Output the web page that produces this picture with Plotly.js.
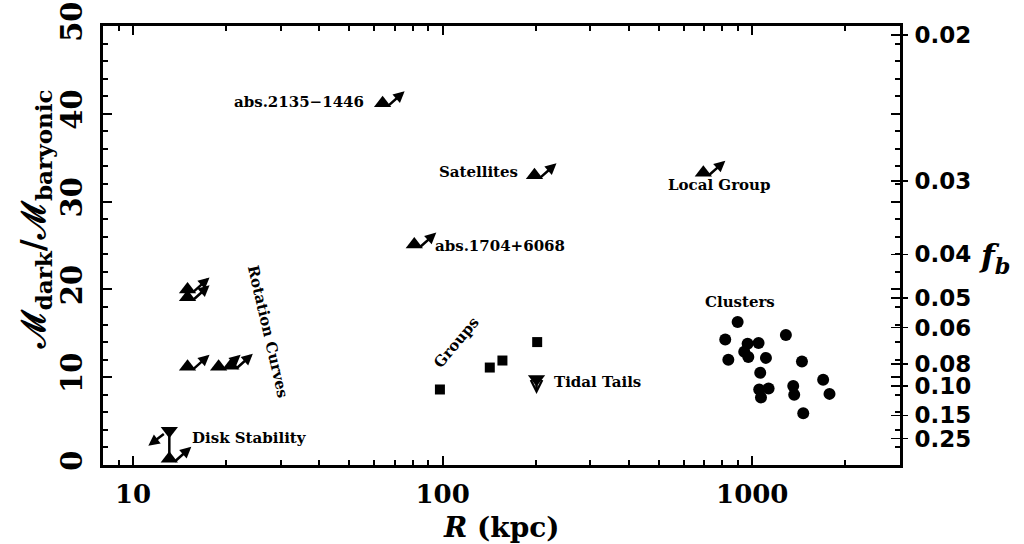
<!DOCTYPE html>
<html><head><meta charset="utf-8">
<script src="https://cdn.plot.ly/plotly-3.0.1.min.js"></script>
<style>body{margin:0;background:#fff}#chart{width:1024px;height:544px}</style>
</head><body><div id="chart"></div>
<script>
// Lower limits (filled up-triangles with up-right arrows)
const lowerR = [64, 198, 695, 81, 15, 15, 15, 18.9, 20.7, 13.1];
const lowerM = [41.2, 33.0, 33.3, 25.1, 20.0, 19.1, 11.2, 11.2, 11.3, 0.7];
// Upper limits (filled down-triangles): disk stability, tidal tails
const upperR = [13.1, 201];
const upperM = [3.9, 9.8];
// Groups (squares)
const groupsR = [98, 142, 156, 202];
const groupsM = [8.6, 11.1, 11.9, 14.0];
// Clusters (circles)
const clustersR = [897, 818, 966, 1048, 1284, 942, 971, 837, 1107, 1447, 1061, 1694, 1053, 1129, 1356, 1366, 1067, 1776, 1461];
const clustersM = [16.3, 14.3, 13.8, 13.9, 14.8, 12.9, 12.3, 12.0, 12.2, 11.8, 10.5, 9.7, 8.6, 8.7, 9.0, 8.0, 7.7, 8.1, 5.9];
// Right axis: baryon fraction ticks
const fbValues = [0.02, 0.03, 0.04, 0.05, 0.06, 0.08, 0.10, 0.15, 0.25];
const fbLabels = ['0.02', '0.03', '0.04', '0.05', '0.06', '0.08', '0.10', '0.15', '0.25'];
// x axis ticks
const xTickVals = [10, 100, 1000];
const xTickText = ['10', '100', '1000'];
const xMinorVals = [8, 9, 20, 30, 40, 50, 60, 70, 80, 90, 200, 300, 400, 500, 600, 700, 800, 900, 2000, 3000];
// Text labels
const labelTexts = ['abs.2135−1446', 'Satellites', 'Local Group', 'abs.1704+6068', 'Rotation Curves', 'Groups', 'Tidal Tails', 'Disk Stability', 'Clusters'];

// styling / placement of labels (paper coords)
const labelPlace = [
  {x: 0.330, y: 0.827, xa: 'right', ang: 0},
  {x: 0.523, y: 0.667, xa: 'right', ang: 0},
  {x: 0.773, y: 0.638, xa: 'center', ang: 0},
  {x: 0.414, y: 0.499, xa: 'left', ang: 0},
  {x: 0.2070, y: 0.303, xa: 'center', ang: 77},
  {x: 0.444, y: 0.280, xa: 'center', ang: -50},
  {x: 0.563, y: 0.189, xa: 'left', ang: 0},
  {x: 0.109, y: 0.0615, xa: 'left', ang: 0},
  {x: 0.799, y: 0.371, xa: 'center', ang: 0}
];
const upperArrowStyle = [
  {xs: -21, ys: -15, ax: 17, ay: -13, head: 2},
  {xs: 0, ys: -15, ax: 0, ay: -11, head: 5}
];

const mk = {color: 'black', line: {width: 0}};
const traces = [
  {x: [upperR[0], lowerR[9]], y: [upperM[0], lowerM[9]], mode: 'lines', line: {color: 'black', width: 2.5}, hoverinfo: 'skip'},
  {x: lowerR, y: lowerM, mode: 'markers', marker: Object.assign({symbol: 'triangle-up', size: 15}, mk)},
  {x: upperR, y: upperM, mode: 'markers', marker: Object.assign({symbol: 'triangle-down', size: 15}, mk)},
  {x: groupsR, y: groupsM, mode: 'markers', marker: Object.assign({symbol: 'square', size: 10}, mk)},
  {x: clustersR, y: clustersM, mode: 'markers', marker: Object.assign({symbol: 'circle', size: 12}, mk)},
  {x: [], y: [], yaxis: 'y2', mode: 'markers'},
  {x: [], y: [], yaxis: 'y3', mode: 'markers'}
];

const annotations = [];
lowerR.forEach((r, i) => {
  annotations.push({x: Math.log10(r), y: lowerM[i], xref: 'x', yref: 'y', text: '', showarrow: true,
    arrowhead: 2, arrowsize: 0.9, arrowwidth: 2.5, arrowcolor: 'black', ax: -18, ay: 16, xshift: 22, yshift: 12});
});
upperR.forEach((r, i) => {
  const s = upperArrowStyle[i];
  annotations.push({x: Math.log10(r), y: upperM[i], xref: 'x', yref: 'y', text: '', showarrow: true,
    arrowhead: s.head, arrowsize: 0.9, arrowwidth: 2.5, arrowcolor: 'black', ax: s.ax, ay: s.ay, xshift: s.xs, yshift: s.ys});
});
labelTexts.forEach((t, i) => {
  const p = labelPlace[i];
  annotations.push({x: p.x, y: p.y, xref: 'paper', yref: 'paper', text: t, showarrow: false,
    xanchor: p.xa, yanchor: 'middle', textangle: p.ang,
    font: {family: 'DejaVu Serif', size: 15, weight: 'bold', color: 'black'}});
});
// axis titles
annotations.push({x: -0.085, y: 0.56, xref: 'paper', yref: 'paper', showarrow: false, textangle: -90,
  text: 'ℳ<sub>dark</sub>/ℳ<sub>baryonic</sub>', xanchor: 'center', yanchor: 'middle',
  font: {family: 'DejaVu Serif', size: 33, weight: 'bold', color: 'black'}});
annotations.push({x: 0.5, y: -0.142, xref: 'paper', yref: 'paper', showarrow: false,
  text: '<i>R</i> (kpc)', xanchor: 'center', yanchor: 'middle',
  font: {family: 'DejaVu Serif', size: 28, weight: 'bold', color: 'black'}});
annotations.push({x: 1.118, y: 0.4715, xref: 'paper', yref: 'paper', showarrow: false,
  text: '<i>f</i><sub><i>b</i></sub>', xanchor: 'center', yanchor: 'middle',
  font: {family: 'DejaVu Serif', size: 32, weight: 'bold', color: 'black'}});

const fbM = fbValues.map(f => (1 - f) / f);
const layout = {
  width: 1024, height: 544,
  margin: {l: 103, r: 124, t: 26, b: 79},
  paper_bgcolor: 'white', plot_bgcolor: 'white',
  showlegend: false,
  font: {family: 'DejaVu Serif', color: 'black'},
  xaxis: {type: 'log', range: [Math.log10(8), Math.log10(3000)], showline: true, linewidth: 3, linecolor: 'black',
    mirror: 'ticks', ticks: 'inside', ticklen: 9, tickwidth: 2, tickcolor: 'black',
    tickmode: 'array', tickvals: xTickVals, ticktext: xTickText,
    tickfont: {family: 'DejaVu Serif', size: 26, weight: 'bold', color: 'black'},
    minor: {tickmode: 'array', tickvals: xMinorVals, ticks: 'inside', ticklen: 5, tickwidth: 2, tickcolor: 'black', showgrid: false},
    showgrid: false, zeroline: false, ticklabelstandoff: 4},
  yaxis: {range: [0, 50], showline: true, linewidth: 3, linecolor: 'black', mirror: 'ticks',
    ticks: 'inside', ticklen: 9, tickwidth: 2, tickcolor: 'black', tick0: 0, dtick: 10, tickangle: -90,
    tickfont: {family: 'DejaVu Serif', size: 29, weight: 'bold', color: 'black'},
    minor: {tick0: 0, dtick: 2, ticks: 'inside', ticklen: 5, tickwidth: 2, tickcolor: 'black', showgrid: false},
    showgrid: false, zeroline: false, ticklabelstandoff: 6},
  yaxis2: {overlaying: 'y', side: 'right', range: [0, 50], tickmode: 'array', tickvals: fbM, ticktext: fbLabels,
    ticks: 'outside', ticklen: 7, tickwidth: 1.5, tickcolor: 'black', showline: false, showgrid: false, zeroline: false,
    tickfont: {family: 'DejaVu Sans', size: 23, weight: 'bold', color: 'black'}, ticklabelstandoff: 2},
  yaxis3: {overlaying: 'y', side: 'right', range: [0, 50], tickmode: 'array', tickvals: fbM,
    ticks: 'inside', ticklen: 9, tickwidth: 1.5, tickcolor: 'black', showticklabels: false,
    showline: false, showgrid: false, zeroline: false},
  annotations: annotations
};
Plotly.newPlot('chart', traces, layout, {staticPlot: true, displayModeBar: false});
</script></body></html>
